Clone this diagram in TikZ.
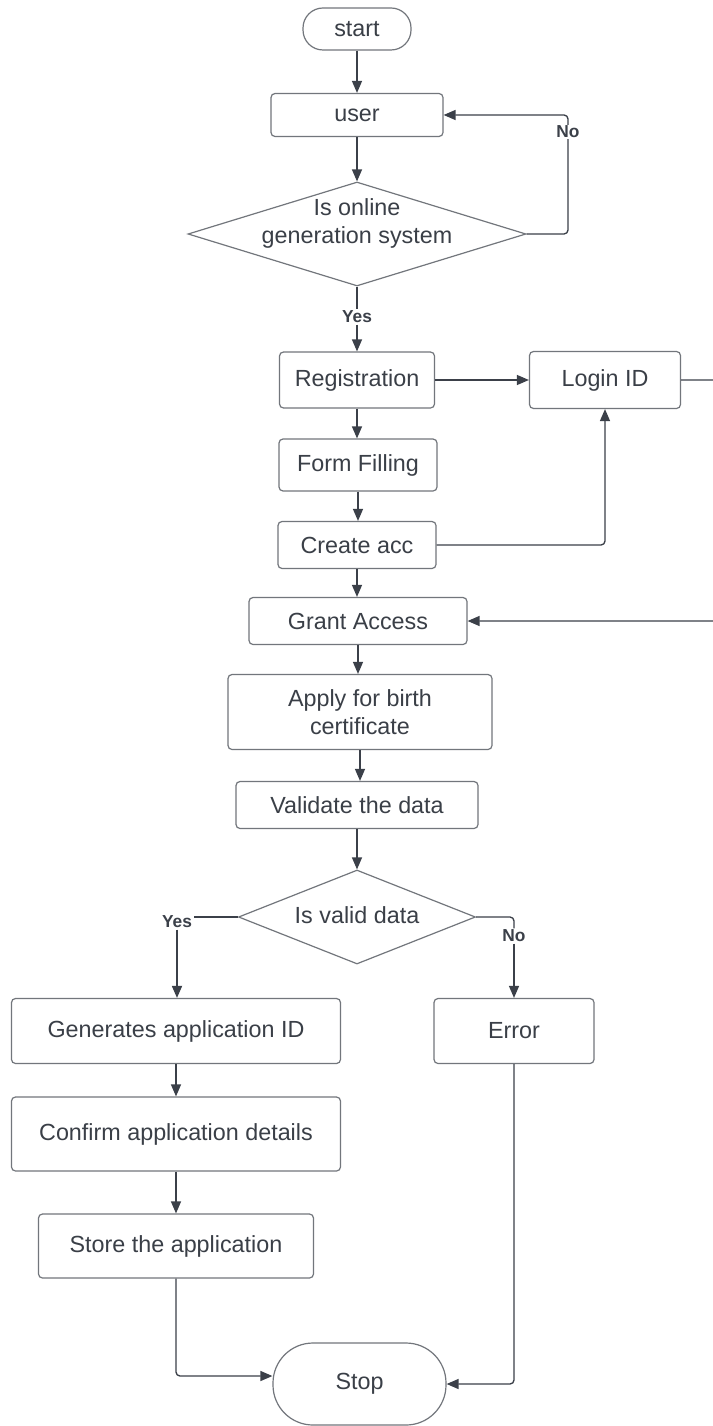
\documentclass[tikz,border=0pt]{standalone}
\usepackage{fontspec}
\setmainfont{Liberation Sans}
\usetikzlibrary{shapes.geometric,arrows.meta,calc}
\definecolor{linec}{HTML}{3B4049}
\definecolor{boxc}{HTML}{72767C}
\definecolor{txtc}{HTML}{3A3F47}
\tikzset{
  box/.style={draw=boxc, line width=0.9pt, rounded corners=3pt, text=txtc,
    font=\fontsize{17.5}{21}\selectfont, inner sep=0pt, align=center},
  pill/.style={box, rounded corners=15pt},
  dia/.style={draw=boxc, line width=0.9pt, diamond, inner sep=0pt},
  txt/.style={text=txtc, font=\fontsize{17.5}{21}\selectfont, align=center, inner sep=0pt},
  lbl/.style={text=linec, font=\bfseries\fontsize{13}{15}\selectfont, inner sep=1pt},
  conn/.style={draw=linec, line width=1pt, rounded corners=3pt},
  arr/.style={conn, -{Triangle[length=9pt,width=7.5pt]}}
}
\begin{document}
\begin{tikzpicture}[x=0.75pt,y=-0.75pt]
\useasboundingbox (0,0) rectangle (713,1426);
\clip (0,0) rectangle (713,1426);
\fill[white] (0,0) rectangle (713,1426);

\node[pill, minimum width=81pt, minimum height=31.5pt] (start) at (357,29) {start};
\node[box, minimum width=129pt, minimum height=32.25pt] (user) at (357,115) {user};
\node[dia, minimum width=253.5pt, minimum height=78pt] (d1) at (357,234) {};
\node[txt] (d1t) at (357,223) {Is online\\generation system};
\node[lbl] (yes1) at (357,317) {Yes};
\node[box, minimum width=116.25pt, minimum height=42pt] (reg) at (357,380) {Registration};
\node[box, minimum width=113.25pt, minimum height=42.75pt] (login) at (605,380) {Login ID};
\node[box, minimum width=118.5pt, minimum height=39pt] (form) at (358,465) {Form Filling};
\node[box, minimum width=118.5pt, minimum height=35.25pt] (create) at (357,545) {Create acc};
\node[box, minimum width=163.5pt, minimum height=35.25pt] (grant) at (358,621) {Grant Access};
\node[box, minimum width=198pt, minimum height=56.25pt] (apply) at (360,712) {Apply for birth\\certificate};
\node[box, minimum width=181.5pt, minimum height=35.25pt] (valid) at (357,805) {Validate the data};
\node[dia, minimum width=177.75pt, minimum height=70.5pt] (d2) at (357,917) {};
\node[txt] (d2t) at (357,915) {Is valid data};
\node[lbl] (yes2) at (177,922) {Yes};
\node[lbl] (no2) at (514,936) {No};
\node[box, minimum width=246.75pt, minimum height=48.75pt] (gen) at (176,1031) {Generates application ID};
\node[box, minimum width=120pt, minimum height=48.75pt] (err) at (514,1031) {Error};
\node[box, minimum width=246.75pt, minimum height=55.5pt] (conf) at (176,1134) {Confirm application details};
\node[box, minimum width=206.25pt, minimum height=48pt] (store) at (176,1246) {Store the application};
\node[pill, rounded corners=30pt, minimum width=129.75pt, minimum height=61.5pt] (stop) at (359.5,1384) {Stop};

\draw[arr] (start) -- (user);
\draw[arr] (user) -- (d1);
\draw[conn] (d1.south) -- (yes1.north);
\draw[arr] (yes1.south) -- (reg.north);
\coordinate (c1) at (568,115);
\draw[arr] (d1.east) -| (c1) -- (user.east);
\node[lbl, fill=white] (no1) at (568,132) {No};
\draw[arr] (reg) -- (login);
\coordinate (c2) at (730,380);
\coordinate (c3) at (730,621);
\draw[arr] (login.east) -- (c2) -- (c3) -- (grant.east);
\draw[arr] (reg.south) -- (reg.south |- form.north);
\draw[arr] (form.south) -- (form.south |- create.north);
\draw[arr] (create.south) -- (create.south |- grant.north);
\draw[arr] (create.east) -| (login.south);
\draw[arr] (grant.south) -- (grant.south |- apply.north);
\draw[arr] (apply.south) -- (apply.south |- valid.north);
\draw[arr] (valid.south) -- (valid.south |- d2.north);
\draw[conn, line width=1.3pt] (d2.west) -- (d2.west -| yes2.east);
\draw[arr, line width=1.3pt] (yes2.south) -- (yes2.south |- gen.north);
\draw[conn] (d2.east) -| (no2.north);
\draw[arr] (no2.south) -- (err.north);
\draw[arr] (gen) -- (conf);
\draw[arr] (conf) -- (store);
\draw[arr] (store.south) |- ([yshift=6pt]stop.west);
\draw[arr] (err.south) |- (stop.east);
\end{tikzpicture}
\end{document}
